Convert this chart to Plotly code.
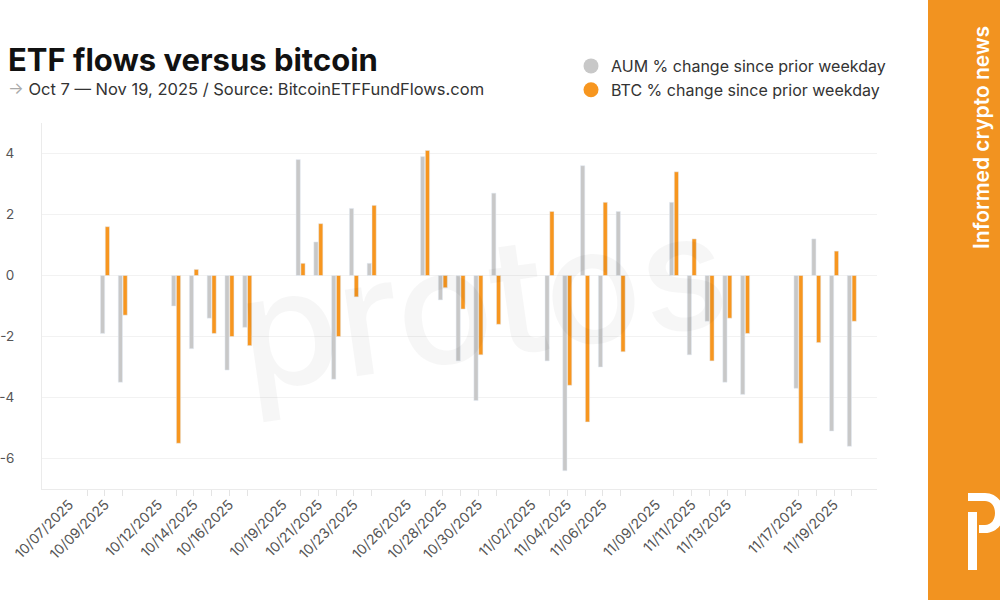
import plotly.graph_objects as go

# ---- data ----
dates = ["2025-10-08", "2025-10-09", "2025-10-10",
         "2025-10-13", "2025-10-14", "2025-10-15", "2025-10-16", "2025-10-17",
         "2025-10-20", "2025-10-21", "2025-10-22", "2025-10-23", "2025-10-24",
         "2025-10-27", "2025-10-28", "2025-10-29", "2025-10-30", "2025-10-31",
         "2025-11-03", "2025-11-04", "2025-11-05", "2025-11-06", "2025-11-07",
         "2025-11-10", "2025-11-11", "2025-11-12", "2025-11-13", "2025-11-14",
         "2025-11-17", "2025-11-18", "2025-11-19", "2025-11-20"]
aum_change = [None, -1.9, -3.5,
              -1.0, -2.4, -1.4, -3.1, -1.7,
              3.8, 1.1, -3.4, 2.2, 0.4,
              3.9, -0.8, -2.8, -4.1, 2.7,
              -2.8, -6.4, 3.6, -3.0, 2.1,
              2.4, -2.6, -1.5, -3.5, -3.9,
              -3.7, 1.2, -5.1, -5.6]
btc_change = [None, 1.6, -1.3,
              -5.5, 0.2, -1.9, -2.0, -2.3,
              0.4, 1.7, -2.0, -0.7, 2.3,
              4.1, -0.4, -1.1, -2.6, -1.6,
              2.1, -3.6, -4.8, 2.4, -2.5,
              3.4, 1.2, -2.8, -1.4, -1.9,
              -5.5, -2.2, 0.8, -1.5]
xtick_dates = ["2025-10-07", "2025-10-09", "2025-10-12", "2025-10-14", "2025-10-16",
               "2025-10-19", "2025-10-21", "2025-10-23", "2025-10-26", "2025-10-28",
               "2025-10-30", "2025-11-02", "2025-11-04", "2025-11-06", "2025-11-09",
               "2025-11-11", "2025-11-13", "2025-11-17", "2025-11-19"]
xtick_labels = ["10/07/2025", "10/09/2025", "10/12/2025", "10/14/2025", "10/16/2025",
                "10/19/2025", "10/21/2025", "10/23/2025", "10/26/2025", "10/28/2025",
                "10/30/2025", "11/02/2025", "11/04/2025", "11/06/2025", "11/09/2025",
                "11/11/2025", "11/13/2025", "11/17/2025", "11/19/2025"]
ytick_vals = [-6, -4, -2, 0, 2, 4]
ytick_labels = ["-6", "-4", "-2", "0", "2", "4"]
series_names = ["AUM % change since prior weekday", "BTC % change since prior weekday"]

GRAY = "#c8c8c8"
ORANGE = "#F7961F"
PANEL = "#F29320"
FONT = "Inter"

FW, FH = 1000, 600
L, T, W, H = 42, 123, 835, 366          # plot area in pixels

def px(x):
    return (x - L) / W
def py(y):
    return (T + H - y) / H

fig = go.Figure()
fig.add_trace(go.Bar(x=dates, y=aum_change, marker_color=GRAY, name=series_names[0],
                     showlegend=False))
fig.add_trace(go.Bar(x=dates, y=btc_change, marker_color=ORANGE, name=series_names[1],
                     showlegend=False))
# legend entries with circle markers
fig.add_trace(go.Scatter(x=[None], y=[None], mode="markers", name=series_names[0],
                         marker=dict(size=15, color=GRAY)))
fig.add_trace(go.Scatter(x=[None], y=[None], mode="markers", name=series_names[1],
                         marker=dict(size=15, color=ORANGE)))

fig.update_layout(
    width=FW, height=FH,
    margin=dict(l=L, r=FW - L - W, t=T, b=FH - T - H, autoexpand=False),
    paper_bgcolor="white", plot_bgcolor="white",
    barmode="group", bargap=0.46, bargroupgap=0.12,
    font=dict(family=FONT, color="#555"),
    legend=dict(xref="container", yref="container",
                x=571 / FW, y=1 - 49 / FH,
                xanchor="left", yanchor="top", bgcolor="rgba(0,0,0,0)",
                font=dict(size=16, color="#333", family=FONT), itemwidth=30,
                tracegroupgap=0),
    xaxis=dict(type="date", range=["2025-10-05 11:00", "2025-11-21 10:00"],
               tickmode="array", tickvals=xtick_dates, ticktext=xtick_labels,
               tickangle=-45, tickfont=dict(size=14, color="#555", family=FONT),
               ticks="outside", ticklen=1, tickcolor="rgba(0,0,0,0)",
               minor=dict(tickmode="array", tickvals=dates, ticks="outside",
                          ticklen=6, tickcolor="#e4e4e4", tickwidth=1, showgrid=False),
               showgrid=False, showline=True, linecolor="#ebebeb", linewidth=1,
               zeroline=False, fixedrange=True, automargin=False),
    yaxis=dict(range=[-7, 5], tickmode="array", tickvals=ytick_vals, ticktext=ytick_labels,
               tickfont=dict(size=13.5, color="#555", family=FONT),
               showgrid=True, gridcolor="#f2f2f2", gridwidth=1,
               showline=True, linecolor="#ebebeb", linewidth=1,
               zeroline=False, ticks="", ticklabelstandoff=24, automargin=False,
               fixedrange=True),
)

annotations = [
    dict(text="protos", x=px(482), y=py(300), xref="paper", yref="paper",
         showarrow=False, textangle=-8, xanchor="center", yanchor="middle",
         font=dict(size=160, color="rgba(0,0,0,0.035)", family=FONT, weight=500)),
    dict(text="<b>ETF flows versus bitcoin</b>", x=px(6), y=py(60), xref="paper", yref="paper",
         showarrow=False, xanchor="left", yanchor="middle",
         font=dict(size=31, color="#111", family=FONT)),
    dict(text="<span style='color:#aaa'>→</span> Oct 7 — Nov 19, 2025 / Source: BitcoinETFFundFlows.com",
         x=px(6), y=py(89), xref="paper", yref="paper",
         showarrow=False, xanchor="left", yanchor="middle",
         font=dict(size=16.5, color="#333", family=FONT)),
    dict(text="Informed crypto news", x=px(981), y=py(138), xref="paper", yref="paper",
         showarrow=False, textangle=-90, xanchor="center", yanchor="middle",
         font=dict(size=21, color="white", family=FONT, weight=600)),
]
fig.update_layout(annotations=annotations)

# side panel and logo
def pt(x, y):
    return f"{px(x):.5f},{py(y):.5f}"

logo_path = ("M " + pt(968, 493) + " L " + pt(985, 493) +
             " C " + pt(996, 493) + " " + pt(1004, 502) + " " + pt(1004, 513) +
             " C " + pt(1004, 524) + " " + pt(996, 533) + " " + pt(985, 533) +
             " L " + pt(979, 533) + " L " + pt(979, 525) + " L " + pt(985, 525) +
             " C " + pt(991, 525) + " " + pt(995, 520) + " " + pt(995, 513) +
             " C " + pt(995, 506) + " " + pt(991, 501) + " " + pt(985, 501) +
             " L " + pt(968, 501) + " Z")
shapes = [
    dict(type="rect", xref="paper", yref="paper", x0=px(928), x1=px(1010),
         y0=py(610), y1=py(-10), fillcolor=PANEL, line=dict(width=0), layer="above"),
    dict(type="rect", xref="paper", yref="paper", x0=px(968), x1=px(977),
         y0=py(570), y1=py(512), fillcolor="white", line=dict(width=0), layer="above"),
    dict(type="path", xref="paper", yref="paper", path=logo_path,
         fillcolor="white", line=dict(width=0), layer="above"),
]
fig.update_layout(shapes=shapes)

# remove the default 8px body margin so the figure sits at the page origin
fig.write_html("out.html",
               config={"displayModeBar": False},
               post_script="document.body.style.margin='0px';")
